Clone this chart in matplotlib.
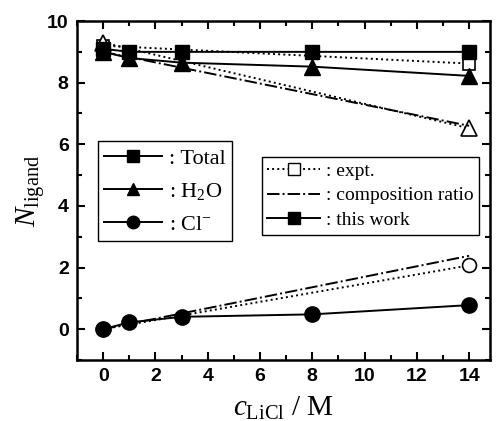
import matplotlib
matplotlib.use('Agg')
import matplotlib.pyplot as plt
from matplotlib.lines import Line2D
from matplotlib.ticker import MultipleLocator

# concentrations (M)
conc = [0, 1, 3, 8, 14]
conc_ends = [0, 14]

# this work
total = [9.1, 9.0, 9.0, 9.0, 9.0]
water = [9.0, 8.8, 8.65, 8.52, 8.22]
chloride = [0.0, 0.22, 0.4, 0.48, 0.78]

# expt.
total_expt = [9.2, 8.62]
water_expt = [9.3, 6.52]
chloride_expt = [0.0, 2.07]

# composition ratio
water_comp = [9.0, 6.6]
chloride_comp = [0.0, 2.38]

plt.rcParams['mathtext.fontset'] = 'custom'
plt.rcParams['mathtext.rm'] = 'Liberation Serif'
plt.rcParams['mathtext.it'] = 'Liberation Serif:italic'

fig = plt.figure(figsize=(4.97, 4.21), dpi=100)
ax = fig.add_axes([0.155, 0.145, 0.831, 0.805])

lw = 1.4
ms = 10

# expt. (dotted, open markers)
ax.plot(conc_ends, total_expt, ':', color='k', lw=lw, marker='s', ms=ms - 1,
        mfc='white', mec='k', mew=1.2)
ax.plot(conc_ends, water_expt, ':', color='k', lw=lw, marker='^', ms=ms + 1,
        mfc='white', mec='k', mew=1.2)
ax.plot(conc_ends, chloride_expt, ':', color='k', lw=lw, marker='o', ms=ms,
        mfc='white', mec='k', mew=1.2)

# composition ratio (dash-dot)
ax.plot(conc_ends, water_comp, '-.', color='k', lw=lw)
ax.plot(conc_ends, chloride_comp, '-.', color='k', lw=lw)

# this work (solid, filled)
ax.plot(conc, total, '-', color='k', lw=lw, marker='s', ms=ms)
ax.plot(conc, water, '-', color='k', lw=lw, marker='^', ms=ms + 1)
ax.plot(conc, chloride, '-', color='k', lw=lw, marker='o', ms=ms + 1)

ax.set_xlim(-1, 14.8)
ax.set_ylim(-1, 10)
ax.xaxis.set_major_locator(MultipleLocator(2))
ax.xaxis.set_minor_locator(MultipleLocator(1))
ax.yaxis.set_major_locator(MultipleLocator(2))
ax.yaxis.set_minor_locator(MultipleLocator(1))
ax.tick_params(which='both', direction='in', top=True, right=True, width=1.5)
ax.tick_params(which='major', length=6, pad=6)
ax.tick_params(which='minor', length=3.5)
for spine in ax.spines.values():
    spine.set_linewidth(1.8)
for lab in ax.get_xticklabels() + ax.get_yticklabels():
    lab.set_fontfamily('Liberation Sans')
    lab.set_fontweight('bold')
    lab.set_fontsize(14)

ax.set_xlabel(r'$c_{\rm LiCl}$ / M', fontsize=21, labelpad=7,
              fontfamily='Liberation Serif')
ax.set_ylabel(r'$N_{\rm ligand}$', fontsize=21, labelpad=0,
              fontfamily='Liberation Serif')

serif = {'family': 'Liberation Serif', 'size': 16}
h_left = [
    Line2D([], [], color='k', lw=lw, marker='s', ms=8),
    Line2D([], [], color='k', lw=lw, marker='^', ms=9),
    Line2D([], [], color='k', lw=lw, marker='o', ms=9),
]
leg1 = ax.legend(h_left, [': Total', r': H$_2$O', r': Cl$^{-}$'],
                 loc='upper left', bbox_to_anchor=(0.05, 0.645),
                 prop=serif, handlelength=2.6, handletextpad=0.3,
                 labelspacing=0.55, borderpad=0.3, borderaxespad=0,
                 fancybox=False, edgecolor='k', framealpha=1)
leg1.get_frame().set_linewidth(1.0)
ax.add_artist(leg1)

serif2 = {'family': 'Liberation Serif', 'size': 14}
h_right = [
    Line2D([], [], color='k', lw=lw, ls=':', marker='s', ms=8, mfc='white'),
    Line2D([], [], color='k', lw=lw, ls='-.'),
    Line2D([], [], color='k', lw=lw, marker='s', ms=8),
]
leg2 = ax.legend(h_right, [': expt.', ': composition ratio', ': this work'],
                 loc='upper left', bbox_to_anchor=(0.447, 0.60),
                 prop=serif2, handlelength=2.7, handletextpad=0.3,
                 labelspacing=0.35, borderpad=0.3, borderaxespad=0,
                 fancybox=False, edgecolor='k', framealpha=1)
leg2.get_frame().set_linewidth(1.0)

fig.savefig('out.png', dpi=100)
